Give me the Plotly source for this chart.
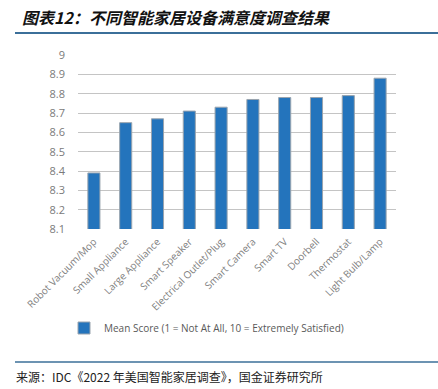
import plotly.graph_objects as go

categories = ["Robot Vacuum/Mop", "Small Appliance", "Large Appliance", "Smart Speaker",
              "Electrical Outlet/Plug", "Smart Camera", "Smart TV", "Doorbell",
              "Thermostat", "Light Bulb/Lamp"]
mean_scores = [8.39, 8.65, 8.67, 8.71, 8.73, 8.77, 8.78, 8.78, 8.79, 8.88]
series_name = "Mean Score (1 = Not At All, 10 = Extremely Satisfied)"
y_ticks = [8.1, 8.2, 8.3, 8.4, 8.5, 8.6, 8.7, 8.8, 8.9, 9.0]
y_tick_labels = ["8.1", "8.2", "8.3", "8.4", "8.5", "8.6", "8.7", "8.8", "8.9", "9"]
title_text = "图表12：不同智能家居设备满意度调查结果"
source_text = "来源：IDC《2022 年美国智能家居调查》，国金证券研究所"

W, H = 438, 389
L, R, T, B = 78, 42, 55, 160
pw, ph = W - L - R, H - T - B

def px_x(x):
    return (x - L) / pw

def px_y(y):
    return (H - B - y) / ph

fig = go.Figure()
fig.add_trace(go.Bar(
    x=categories, y=mean_scores, name=series_name,
    marker=dict(color="#2474bc", line=dict(color="#9aa4ae", width=1)),
    showlegend=True,
))

fig.update_layout(
    width=W, height=H,
    margin=dict(l=L, r=R, t=T, b=B),
    paper_bgcolor="white", plot_bgcolor="white",
    bargap=0.62,
    font=dict(family="Open Sans, Noto Sans", color="#595959"),
    xaxis=dict(tickangle=-45, tickfont=dict(size=10, color="#808080"),
               showgrid=False, showline=False, ticks="", automargin=False,
               ticklabelstandoff=4),
    yaxis=dict(range=[8.1, 9.0], tickvals=y_ticks, ticktext=y_tick_labels,
               tickfont=dict(size=11, color="#7a7a7a"),
               showgrid=True, gridcolor="#c4c4c4", gridwidth=1,
               zeroline=False, showline=False, ticks="", ticklabelstandoff=12,
               automargin=False),
    legend=dict(orientation="h", x=px_x(64), xanchor="left",
                y=px_y(328), yanchor="middle",
                font=dict(size=10, color="#595959"),
                itemwidth=30, bgcolor="rgba(0,0,0,0)"),
    showlegend=True,
)

fig.add_annotation(text="<b><i>" + title_text + "</i></b>", xref="paper", yref="paper",
                   x=px_x(20), y=px_y(17), xanchor="left", yanchor="middle",
                   showarrow=False,
                   font=dict(family="Noto Sans CJK SC", size=16, color="#111111"))
fig.add_annotation(text=source_text, xref="paper", yref="paper",
                   x=px_x(14), y=px_y(376), xanchor="left", yanchor="middle",
                   showarrow=False,
                   font=dict(family="Noto Sans CJK SC", size=12, color="#222222"))

fig.add_shape(type="line", xref="paper", yref="paper",
              x0=px_x(15), x1=px_x(438), y0=px_y(33), y1=px_y(33),
              line=dict(color="#3b6f99", width=2))
fig.add_shape(type="line", xref="paper", yref="paper",
              x0=px_x(15), x1=px_x(438), y0=px_y(362), y1=px_y(362),
              line=dict(color="#3b6f99", width=1.5))

fig.write_html("out.html", config={"displayModeBar": False},
               post_script="document.body.style.margin='0';")
